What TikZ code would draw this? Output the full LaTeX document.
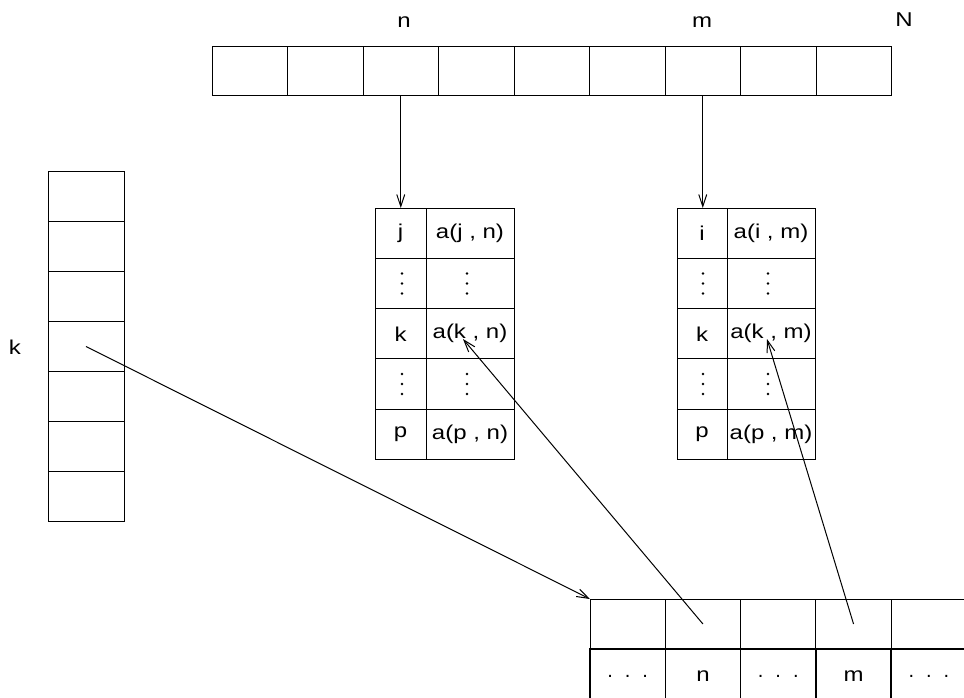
\documentclass[tikz,border=0pt]{standalone}
\usepackage{fontspec}
\setmainfont{Liberation Sans}
\usepackage{graphicx}
\usetikzlibrary{arrows.meta,calc}
\newcommand{\sx}[1]{\scalebox{1.2}[1]{#1}}
\begin{document}
\begin{tikzpicture}[x=1pt,y=-1pt,
  line width=1pt,
  cell/.style={draw,rectangle,inner sep=0pt,outer sep=0pt},
  lbl/.style={inner sep=0pt,font=\fontsize{20}{23}\selectfont},
  arr/.style={-{Straight Barb[length=12pt,width=8pt,line width=1pt]}},
  dot/.style={circle,fill,inner sep=0pt,minimum size=2.8pt}]
\useasboundingbox (0,0) rectangle (964,697);
\clip (0,0) rectangle (964,697);
% top array
\foreach \i in {1,...,9}{
  \node[cell,minimum width=75.5pt,minimum height=49pt] (top\i) at ({212+75.5*(\i-0.5)},70.5) {};
}
\node[lbl] (ln) at (404,22) {\sx{n}};
\node[lbl] (lm) at (702,22) {\sx{m}};
\node[lbl] (lN) at (904,20) {\sx{N}};
% left column
\foreach \i in {1,...,7}{
  \node[cell,minimum width=76pt,minimum height=50.14pt] (L\i) at (86,{171+50.14*(\i-0.5)}) {};
}
\node[lbl] (lk) at (15,347) {\sx{k}};
% tables
\foreach \t/\xa/\wa/\wb in {A/375/51/88,B/677/50/88}{
  \foreach \r in {1,...,5}{
    \node[cell,minimum width=\wa pt,minimum height=50.3pt] (\t l\r) at ({\xa+\wa/2},{208+50.3*(\r-0.5)}) {};
    \node[cell,minimum width=\wb pt,minimum height=50.3pt] (\t r\r) at ({\xa+\wa+\wb/2},{208+50.3*(\r-0.5)}) {};
  }
}
\node[lbl] at (Al1) {\sx{j}};
\node[lbl] at (Ar1) {\sx{a(j , n)}};
\node[lbl] at (Al3) {\sx{k}};
\node[lbl] at (Ar3) {\sx{a(k , n)}};
\node[lbl] at (Al5) {\sx{p}};
\node[lbl] at (Ar5) {\sx{a(p , n)}};
\node[lbl] at (Bl1) {\sx{i}};
\node[lbl] at (Br1) {\sx{a(i , m)}};
\node[lbl] at (Bl3) {\sx{k}};
\node[lbl] at (Br3) {\sx{a(k , m)}};
\node[lbl] at (Bl5) {\sx{p}};
\node[lbl] at (Br5) {\sx{a(p , m)}};
% vertical dots
\foreach \t/\dx in {Al/1.5,Ar/-3,Bl/1,Br/-3}{
  \foreach \r in {2,4}{
    \foreach \d in {-10,0,10}{
      \node[dot] at ($(\t\r.center)+(\dx,\d)$) {};
    }
  }
}
% bottom array
\foreach \i in {1,...,5}{
  \node[cell,minimum width=75.3pt,minimum height=50pt] (U\i) at ({590+75.3*(\i-0.5)},624) {};
  \node[cell,line width=1.6pt,minimum width=75.3pt,minimum height=50pt] (V\i) at ({590+75.3*(\i-0.5)},674) {};
}
\node[lbl] at ($(V1.center)+(0,2)$) {.\hspace{12pt}.\hspace{12pt}.};
\node[lbl] at ($(V2.center)+(0,2)$) {\sx{n}};
\node[lbl] at ($(V3.center)+(0,2)$) {.\hspace{12pt}.\hspace{12pt}.};
\node[lbl] at ($(V4.center)+(0,2)$) {\sx{m}};
\node[lbl] at ($(V5.center)+(0,2)$) {.\hspace{12pt}.\hspace{12pt}.};
% connectors
\coordinate (kn) at (463,339);
\coordinate (km) at (767,339);
\draw[arr] (top3.south) -- (top3.south |- Al1.north);
\draw[arr] (top7.south) -- (top7.south |- Bl1.north);
\draw[arr] (L4.center) -- (U1.north west);
\draw[arr] (U2.center) -- (kn);
\draw[arr] (U4.center) -- (km);
\end{tikzpicture}
\end{document}
